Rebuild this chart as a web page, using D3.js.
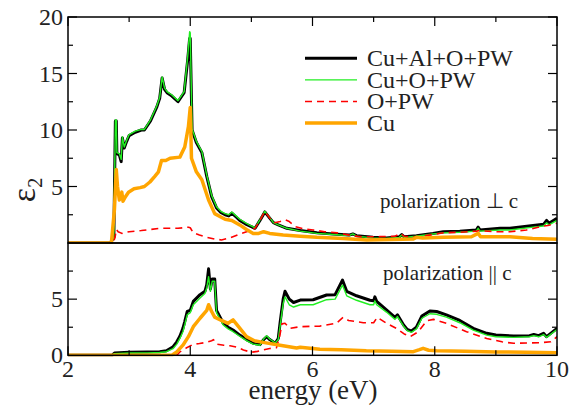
<!DOCTYPE html>
<html>
<head>
<meta charset="utf-8">
<script src="https://cdn.jsdelivr.net/npm/d3@7"></script>
<style>
  body { margin: 0; background: #fff; }
  svg { display: block; }
</style>
</head>
<body>
<div id="chart"></div>
<script>
// ε2 spectra, [energy (eV), value]
// polarization perpendicular to c (top panel)
var perpFull = [[2.0,0],[2.69,0],[2.75,0.5],[2.775,10.8],[2.79,10.8],[2.8,7.9],[2.84,7.8],[2.87,7.2],[2.89,9.3],[2.92,8.4],[2.96,9.0],[3.0,9.5],[3.1,9.8],[3.2,10.0],[3.25,10.0],[3.35,10.8],[3.45,12.0],[3.5,12.8],[3.54,14.6],[3.58,13.6],[3.62,13.3],[3.7,13.0],[3.8,12.5],[3.9,13.3],[3.96,16.3],[3.99,18.1],[4.0,18.1],[4.03,10.0],[4.1,8.9],[4.19,8.0],[4.27,5.9],[4.35,4.1],[4.43,3.1],[4.5,2.7],[4.57,2.5],[4.63,2.4],[4.68,2.65],[4.75,2.3],[4.81,2.0],[4.9,1.7],[4.98,1.5],[5.06,1.3],[5.14,2.0],[5.22,2.75],[5.3,2.2],[5.36,1.8],[5.44,1.6],[5.58,1.3],[5.8,1.1],[6.07,0.9],[6.34,0.8],[6.6,0.7],[6.66,0.8],[6.72,0.65],[6.99,0.5],[7.21,0.45],[7.42,0.55],[7.46,0.75],[7.5,0.55],[7.7,0.65],[7.97,0.85],[8.14,1.0],[8.41,1.05],[8.68,1.15],[8.71,1.4],[8.74,1.15],[9.07,1.3],[9.23,1.3],[9.61,1.55],[9.78,1.65],[9.83,2.0],[9.87,1.75],[10.0,2.2]];
var perpNoAl = [[2.0,0],[2.69,0],[2.75,0.5],[2.775,10.9],[2.79,10.9],[2.8,8.0],[2.84,7.9],[2.87,7.4],[2.89,9.4],[2.92,8.5],[2.96,9.1],[3.0,9.6],[3.1,9.9],[3.2,10.05],[3.25,10.05],[3.35,10.9],[3.45,12.1],[3.5,12.9],[3.54,14.7],[3.58,13.7],[3.62,13.4],[3.7,13.1],[3.8,12.6],[3.9,13.4],[3.96,16.6],[3.99,18.7],[4.0,18.6],[4.03,10.1],[4.1,9.0],[4.19,8.1],[4.27,6.0],[4.35,4.2],[4.43,3.2],[4.5,2.8],[4.57,2.6],[4.63,2.5],[4.68,2.75],[4.75,2.4],[4.81,2.1],[4.9,1.8],[4.98,1.55],[5.06,1.35],[5.14,2.05],[5.22,2.8],[5.3,2.25],[5.36,1.8],[5.44,1.6],[5.58,1.3],[5.8,1.05],[6.07,0.85],[6.34,0.75],[6.6,0.65],[6.66,0.8],[6.72,0.6],[6.99,0.45],[7.21,0.4],[7.42,0.5],[7.46,0.7],[7.5,0.5],[7.7,0.6],[7.97,0.8],[8.14,0.9],[8.41,0.95],[8.68,1.05],[8.71,1.3],[8.74,1.05],[9.07,1.15],[9.23,1.15],[9.61,1.4],[9.78,1.5],[9.83,1.8],[9.87,1.6],[10.0,2.0]];
var perpO = [[2.0,0],[2.74,0],[2.77,0.5],[2.79,1.2],[2.82,1.0],[2.88,0.85],[3.0,1.0],[3.2,1.1],[3.5,1.3],[3.8,1.3],[3.97,1.4],[4.0,1.35],[4.05,0.9],[4.15,0.7],[4.27,0.5],[4.4,0.35],[4.51,0.27],[4.65,0.45],[4.81,0.8],[4.98,1.1],[5.06,1.3],[5.14,2.0],[5.22,2.8],[5.3,2.2],[5.38,1.8],[5.47,1.9],[5.56,2.05],[5.62,1.9],[5.72,1.45],[5.85,1.25],[6.01,1.15],[6.2,1.0],[6.4,0.9],[6.6,0.7],[6.78,0.56],[6.95,0.55],[7.1,0.56],[7.35,0.6],[7.44,0.85],[7.5,0.6],[7.7,0.5],[7.9,0.7],[8.14,0.9],[8.4,0.95],[8.69,1.05],[8.72,1.1],[9.0,1.0],[9.23,1.0],[9.5,1.15],[9.78,1.5],[9.85,1.55],[10.0,1.75]];
var perpCu = [[2.0,0],[2.71,0],[2.76,3.0],[2.79,6.5],[2.81,5.0],[2.84,3.8],[2.88,4.5],[2.9,3.7],[2.94,4.1],[2.99,4.5],[3.08,4.8],[3.18,4.9],[3.25,5.0],[3.34,5.4],[3.42,5.9],[3.48,6.3],[3.53,7.3],[3.6,7.3],[3.67,7.5],[3.83,7.6],[3.91,8.5],[3.97,10.3],[4.0,12.0],[4.02,7.5],[4.1,6.3],[4.19,5.6],[4.3,3.8],[4.4,2.6],[4.5,2.3],[4.57,2.1],[4.68,2.0],[4.81,1.6],[4.92,1.2],[5.03,0.85],[5.12,0.85],[5.2,1.0],[5.3,0.85],[5.52,0.7],[5.8,0.6],[6.07,0.5],[6.5,0.4],[6.89,0.27],[7.3,0.3],[7.65,0.35],[7.7,0.5],[7.8,0.45],[8.14,0.5],[8.6,0.55],[8.71,0.85],[8.75,0.55],[9.23,0.55],[9.6,0.4],[10.0,0.33]];

// polarization parallel to c (bottom panel)
var parFull = [[2.0,0],[2.72,0],[2.76,0.2],[3.0,0.28],[3.3,0.3],[3.5,0.32],[3.61,0.4],[3.72,0.77],[3.78,1.2],[3.83,1.7],[3.88,2.4],[3.91,3.0],[3.95,3.9],[4.0,4.0],[4.05,4.8],[4.16,5.4],[4.24,5.7],[4.27,6.3],[4.3,7.7],[4.33,5.9],[4.36,6.8],[4.4,6.8],[4.43,4.0],[4.54,2.85],[4.62,2.5],[4.7,2.25],[4.81,1.8],[4.92,1.4],[5.03,1.07],[5.14,0.95],[5.2,1.4],[5.25,1.65],[5.3,1.4],[5.39,1.07],[5.44,1.5],[5.47,2.9],[5.52,5.0],[5.55,5.7],[5.62,5.0],[5.69,4.7],[5.8,4.92],[6.01,4.95],[6.23,5.37],[6.37,5.4],[6.49,6.7],[6.56,5.7],[6.72,5.3],[6.94,4.9],[7.0,4.85],[7.02,5.2],[7.05,4.8],[7.21,4.05],[7.35,3.38],[7.39,3.6],[7.49,2.7],[7.55,2.3],[7.62,2.16],[7.7,2.5],[7.79,3.5],[7.92,3.95],[8.03,3.9],[8.19,3.6],[8.41,3.1],[8.63,2.4],[8.85,1.96],[9.0,1.8],[9.29,1.72],[9.55,1.75],[9.62,1.85],[9.7,1.75],[9.78,1.96],[9.83,1.66],[10.0,2.4]];
var parNoAl = [[2.0,0],[2.72,0],[2.76,0.15],[3.0,0.2],[3.3,0.22],[3.5,0.25],[3.61,0.32],[3.72,0.6],[3.78,1.0],[3.83,1.5],[3.88,2.1],[3.91,2.7],[3.95,3.6],[4.0,3.8],[4.05,4.5],[4.16,5.1],[4.24,5.5],[4.27,6.0],[4.3,7.0],[4.33,5.7],[4.36,6.6],[4.4,6.6],[4.43,3.8],[4.54,2.7],[4.62,2.35],[4.7,2.1],[4.81,1.7],[4.92,1.3],[5.03,1.0],[5.14,0.9],[5.2,1.45],[5.25,1.75],[5.3,1.45],[5.39,1.1],[5.44,1.4],[5.47,2.6],[5.52,4.6],[5.55,5.2],[5.62,4.5],[5.69,4.3],[5.8,4.5],[6.01,4.5],[6.23,4.95],[6.37,5.0],[6.49,6.25],[6.56,5.3],[6.72,4.9],[6.94,4.5],[7.0,4.5],[7.02,4.85],[7.05,4.5],[7.21,3.85],[7.35,3.2],[7.39,3.45],[7.49,2.6],[7.55,2.2],[7.62,2.05],[7.7,2.35],[7.79,3.3],[7.92,3.7],[8.03,3.65],[8.19,3.4],[8.41,2.9],[8.63,2.25],[8.85,1.8],[9.0,1.65],[9.29,1.6],[9.55,1.65],[9.62,1.75],[9.7,1.65],[9.78,1.85],[9.83,1.6],[10.0,2.3]];
var parO = [[2.0,0],[3.78,0],[3.83,0.3],[3.95,0.7],[4.05,0.98],[4.15,1.05],[4.27,1.15],[4.35,1.3],[4.38,1.4],[4.43,1.0],[4.55,0.9],[4.65,0.85],[4.78,0.7],[4.87,0.47],[5.0,0.27],[5.1,0.35],[5.19,0.47],[5.3,0.6],[5.41,0.68],[5.46,1.6],[5.5,2.8],[5.55,2.85],[5.63,2.4],[5.8,2.55],[6.12,2.6],[6.39,2.85],[6.5,3.38],[6.59,3.1],[6.83,2.9],[7.0,2.9],[7.06,3.38],[7.21,2.85],[7.37,2.4],[7.5,1.9],[7.6,1.66],[7.73,2.1],[7.87,3.08],[7.98,3.2],[8.19,2.85],[8.52,2.1],[8.85,1.5],[9.1,1.2],[9.29,1.07],[9.5,1.1],[9.72,1.12],[9.9,1.2],[10.0,1.66]];
var parCu = [[2.0,0],[3.7,0],[3.78,0.3],[3.88,0.9],[3.97,1.66],[4.05,2.55],[4.16,3.3],[4.27,4.0],[4.3,4.5],[4.35,3.9],[4.4,3.4],[4.51,3.1],[4.62,2.85],[4.7,3.15],[4.79,2.55],[4.92,1.66],[5.05,1.3],[5.19,1.15],[5.47,0.9],[5.74,0.65],[5.8,0.71],[6.12,0.53],[6.47,0.5],[6.88,0.4],[7.3,0.35],[7.65,0.32],[7.75,0.5],[7.81,0.62],[7.9,0.45],[8.03,0.4],[8.5,0.35],[9.0,0.3],[9.5,0.27],[10.0,0.23]];

var legendLabels = ["Cu+Al+O+PW", "Cu+O+PW", "O+PW", "Cu"];
var xTicks = [2, 4, 6, 8, 10];
var topTicks = [5, 10, 15, 20];
var bottomTicks = [0, 5];

var W = 572, H = 407;
var pLeft = 68, pRight = 557, pTop = 17, pMid = 243, pBottom = 355.3;
var serif = "'Liberation Serif', 'Times New Roman', serif";

var styles = [
  {color: "#000000", width: 3, dash: null},
  {color: "#22ee22", width: 1.4, dash: null},
  {color: "#ff0000", width: 1.6, dash: "7,5"},
  {color: "#ffa500", width: 3.5, dash: null}
];

var svg = d3.select("#chart").append("svg")
    .attr("width", W)
    .attr("height", H)
    .attr("font-family", serif)
    .attr("fill", "#222");

var x = d3.scaleLinear().domain([2, 10]).range([pLeft, pRight]);
var yTop = d3.scaleLinear().domain([0, 20]).range([pMid, pTop]);
var yBot = d3.scaleLinear().domain([0, 10]).range([pBottom, pMid]);

// clip for each panel
var defs = svg.append("defs");
defs.append("clipPath").attr("id", "clipTop").append("rect")
    .attr("x", pLeft).attr("y", pTop).attr("width", pRight - pLeft).attr("height", pMid - pTop + 1);
defs.append("clipPath").attr("id", "clipBot").append("rect")
    .attr("x", pLeft).attr("y", pMid).attr("width", pRight - pLeft).attr("height", pBottom - pMid + 1);

function drawPanel(series, y, clipId) {
    var line = d3.line()
        .x(function(d) { return x(d[0]); })
        .y(function(d) { return y(d[1]); });
    var g = svg.append("g").attr("clip-path", "url(#" + clipId + ")");
    series.forEach(function(s, i) {
        g.append("path")
            .datum(s)
            .attr("d", line)
            .attr("fill", "none")
            .attr("stroke", styles[i].color)
            .attr("stroke-width", styles[i].width)
            .attr("stroke-linejoin", "round")
            .attr("stroke-dasharray", styles[i].dash);
    });
}

drawPanel([perpFull, perpNoAl, perpO, perpCu], yTop, "clipTop");
drawPanel([parFull, parNoAl, parO, parCu], yBot, "clipBot");

// ticks (inward, xmgrace style)
var tk = svg.append("g").attr("stroke", "#000").attr("stroke-width", 1.2);
function tick(x1, y1, x2, y2) {
    tk.append("line").attr("x1", x1).attr("y1", y1).attr("x2", x2).attr("y2", y2);
}
d3.range(2, 10.01, 1).forEach(function(v) {
    var len = (v % 2 === 0) ? 9 : 5;
    tick(x(v), pTop, x(v), pTop + len);
    tick(x(v), pBottom, x(v), pBottom - len);
});
d3.range(2.5, 20.01, 2.5).forEach(function(v) {
    var len = (v % 5 === 0) ? 9 : 5;
    tick(pLeft, yTop(v), pLeft + len, yTop(v));
    tick(pRight, yTop(v), pRight - len, yTop(v));
});
d3.range(2.5, 9.9, 2.5).forEach(function(v) {
    var len = (v % 5 === 0) ? 9 : 5;
    tick(pLeft, yBot(v), pLeft + len, yBot(v));
    tick(pRight, yBot(v), pRight - len, yBot(v));
});

// frames
svg.append("rect").attr("x", pLeft).attr("y", pTop)
    .attr("width", pRight - pLeft).attr("height", pMid - pTop)
    .attr("fill", "none").attr("stroke", "#000").attr("stroke-width", 1.5);
svg.append("rect").attr("x", pLeft).attr("y", pMid)
    .attr("width", pRight - pLeft).attr("height", pBottom - pMid)
    .attr("fill", "none").attr("stroke", "#000").attr("stroke-width", 1.5);

// tick labels
svg.selectAll(".xl").data(xTicks).enter().append("text")
    .attr("x", function(d) { return x(d); })
    .attr("y", 377)
    .attr("text-anchor", "middle")
    .attr("font-size", 24)
    .text(function(d) { return d; });
svg.selectAll(".ytl").data(topTicks).enter().append("text")
    .attr("x", 63)
    .attr("y", function(d) { return yTop(d) + 8; })
    .attr("text-anchor", "end")
    .attr("font-size", 24)
    .text(function(d) { return d; });
svg.selectAll(".ybl").data(bottomTicks).enter().append("text")
    .attr("x", 63)
    .attr("y", function(d) { return yBot(d) + 8; })
    .attr("text-anchor", "end")
    .attr("font-size", 24)
    .text(function(d) { return d; });

// axis titles
svg.append("text")
    .attr("x", 313).attr("y", 399)
    .attr("text-anchor", "middle")
    .attr("font-size", 27)
    .text("energy (eV)");
var yt = svg.append("text")
    .attr("transform", "translate(35,190) rotate(-90)")
    .attr("text-anchor", "middle")
    .attr("font-size", 34);
yt.append("tspan").text("ε");
yt.append("tspan").attr("font-size", 20).attr("dy", 7).text("2");

// panel notes
svg.append("text").attr("x", 380).attr("y", 208).attr("font-size", 21)
    .text("polarization ⊥ c");
svg.append("text").attr("x", 383).attr("y", 280).attr("font-size", 21)
    .text("polarization || c");

// legend
var leg = svg.append("g");
legendLabels.forEach(function(name, i) {
    var ly = 58.3 + i * 21.6;
    leg.append("line")
        .attr("x1", 305).attr("x2", 357)
        .attr("y1", ly).attr("y2", ly)
        .attr("stroke", styles[i].color)
        .attr("stroke-width", styles[i].width)
        .attr("stroke-dasharray", styles[i].dash);
    leg.append("text")
        .attr("x", 367).attr("y", ly + 7.7)
        .attr("font-size", 24)
        .text(name);
});
</script>
</body>
</html>
